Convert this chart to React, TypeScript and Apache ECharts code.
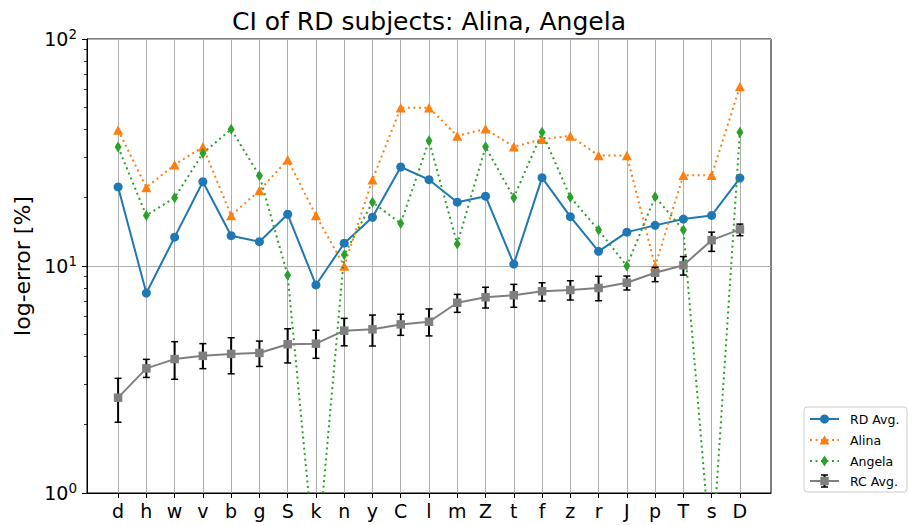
import React, { useEffect, useRef } from "react";
import * as echarts from "echarts";

const categories = ["d", "h", "w", "v", "b", "g", "S", "k", "n", "y", "C", "l", "m", "Z", "t", "f", "z", "r", "J", "p", "T", "s", "D"];

const rdAvg = [22.3, 7.6, 13.4, 23.5, 13.6, 12.8, 16.9, 8.25, 12.6, 16.4, 27.3, 24.0, 19.1, 20.3, 10.2, 24.5, 16.5, 11.6, 14.1, 15.1, 16.1, 16.7, 24.4];
const alina = [39.7, 22.2, 27.9, 33.5, 16.7, 21.5, 29.4, 16.7, 10.0, 24.0, 49.8, 49.8, 37.4, 40.2, 33.5, 36.2, 37.4, 30.7, 30.7, 10.0, 25.1, 25.1, 61.7];
const angela = [33.4, 16.7, 20.0, 31.4, 40.0, 25.0, 9.1, 0.45, 11.2, 19.1, 15.4, 35.6, 12.5, 33.5, 20.0, 38.8, 20.1, 14.4, 10.0, 20.2, 14.4, 0.49, 38.8];
const rcAvg = [2.63, 3.54, 3.89, 4.02, 4.1, 4.14, 4.52, 4.55, 5.19, 5.26, 5.53, 5.68, 6.89, 7.28, 7.43, 7.74, 7.84, 8.0, 8.44, 9.34, 10.07, 13.0, 14.5];
const rcLow = [2.05, 3.23, 3.17, 3.53, 3.35, 3.61, 3.74, 3.92, 4.45, 4.44, 4.95, 4.92, 6.25, 6.53, 6.58, 7.01, 7.08, 7.03, 7.84, 8.53, 9.12, 11.6, 13.6];
const rcHigh = [3.2, 3.88, 4.64, 4.55, 4.83, 4.67, 5.29, 5.21, 5.88, 6.08, 6.13, 6.47, 7.5, 8.06, 8.3, 8.44, 8.61, 9.01, 9.03, 9.87, 11.0, 14.1, 15.3];

const yMajorTicks = [1, 10, 100];
const yMinorTicks = [2, 3, 4, 5, 6, 7, 8, 9, 20, 30, 40, 50, 60, 70, 80, 90];

const seriesNames = ["RD Avg.", "Alina", "Angela", "RC Avg."];
const title = "CI of RD subjects: Alina, Angela";
const yName = "log-error [%]";

const BLUE = "#1f77b4";
const ORANGE = "#ff7f0e";
const GREEN = "#2ca02c";
const GRAY = "#7f7f7f";
const FONT = "DejaVu Sans";
const DOT: number[] = [2, 3.5];

function legendGraphic() {
  const x0 = 804;
  const y0 = 407;
  const rows = [419, 440, 461, 481];
  const lx1 = 810;
  const lx2 = 839;
  const mx = 824.5;
  const tx = 850;
  const children: any[] = [
    {
      type: "rect",
      shape: { x: x0, y: y0, width: 103, height: 85, r: 3 },
      style: { fill: "rgba(255,255,255,0.8)", stroke: "#cccccc", lineWidth: 1 },
    },
  ];
  const colors = [BLUE, ORANGE, GREEN, GRAY];
  const dashes: any[] = ["solid", DOT, DOT, "solid"];
  rows.forEach((y, i) => {
    children.push({
      type: "line",
      shape: { x1: lx1, y1: y, x2: lx2, y2: y },
      style: { stroke: colors[i], lineWidth: 2, lineDash: dashes[i] === "solid" ? null : dashes[i] },
    });
    if (i === 0) {
      children.push({ type: "circle", shape: { cx: mx, cy: y, r: 4.5 }, style: { fill: BLUE } });
    } else if (i === 1) {
      children.push({
        type: "polygon",
        shape: { points: [[mx, y - 4.7], [mx - 5, y + 4.5], [mx + 5, y + 4.5]] },
        style: { fill: ORANGE },
      });
    } else if (i === 2) {
      children.push({
        type: "polygon",
        shape: { points: [[mx, y - 5.5], [mx + 3.5, y], [mx, y + 5.5], [mx - 3.5, y]] },
        style: { fill: GREEN },
      });
    } else {
      children.push({ type: "line", shape: { x1: mx, y1: y - 6, x2: mx, y2: y + 6 }, style: { stroke: "#000", lineWidth: 2 } });
      children.push({ type: "line", shape: { x1: mx - 3.5, y1: y - 6, x2: mx + 3.5, y2: y - 6 }, style: { stroke: "#000", lineWidth: 1.5 } });
      children.push({ type: "line", shape: { x1: mx - 3.5, y1: y + 6, x2: mx + 3.5, y2: y + 6 }, style: { stroke: "#000", lineWidth: 1.5 } });
      children.push({ type: "rect", shape: { x: mx - 4.25, y: y - 4.25, width: 8.5, height: 8.5 }, style: { fill: GRAY } });
    }
    children.push({
      type: "text",
      x: tx,
      y: y,
      style: { text: seriesNames[i], fill: "#000", font: `12.5px ${FONT}`, textVerticalAlign: "middle", textAlign: "left" },
    });
  });
  return { type: "group", children };
}

export default function App() {
  const ref = useRef<HTMLDivElement>(null);
  useEffect(() => {
    if (!ref.current) return;
    const chart = echarts.init(ref.current, null, { renderer: "svg" });
    const idx = categories.map((_, i) => i);
    const option: any = {
      animation: false,
      backgroundColor: "#fff",
      textStyle: { fontFamily: FONT },
      grid: { left: 87, right: 138, top: 39, bottom: 32, show: true, borderColor: "#000", borderWidth: 1, backgroundColor: "transparent" },
      xAxis: {
        type: "value",
        min: -1.1,
        max: 23.1,
        axisLine: { show: true, onZero: false, lineStyle: { color: "#000", width: 1 } },
        axisTick: { show: true, customValues: idx, length: 5, lineStyle: { color: "#000", width: 1 } },
        axisLabel: {
          show: true,
          customValues: idx,
          formatter: (v: number) => categories[Math.round(v)] ?? "",
          color: "#000",
          fontSize: 19,
          fontFamily: FONT,
          margin: 8,
        },
        splitLine: { show: true, lineStyle: { color: "#b0b0b0", width: 1 } },
      },
      yAxis: [
        {
          type: "log",
          logBase: 10,
          min: 1,
          max: 100,
          position: "left",
          name: yName,
          nameLocation: "middle",
          nameGap: 54,
          nameRotate: 90,
          nameTextStyle: { fontSize: 22, color: "#000", fontFamily: FONT },
          axisLine: { show: true, onZero: false, lineStyle: { color: "#000", width: 1 } },
          axisTick: { show: true, customValues: yMajorTicks, length: 5, lineStyle: { color: "#000", width: 1 } },
          axisLabel: {
            show: true,
            customValues: yMajorTicks,
            margin: 10,
            formatter: (v: number) => `{a|10}{b|${Math.round(Math.log10(v))}}`,
            rich: {
              a: { fontSize: 19, fontFamily: FONT, color: "#000" },
              b: { fontSize: 13.5, fontFamily: FONT, color: "#000", padding: [0, 0, 10, 0] },
            },
          },
          splitLine: { show: true, lineStyle: { color: "#b0b0b0", width: 1 } },
        },
        {
          type: "log",
          logBase: 10,
          min: 1,
          max: 100,
          position: "left",
          axisLine: { show: false, onZero: false },
          axisLabel: { show: false },
          splitLine: { show: false },
          axisTick: { show: true, customValues: yMinorTicks, length: 3, lineStyle: { color: "#000", width: 0.8 } },
        },
      ],
      graphic: [
        {
          type: "text",
          x: 429,
          y: 21,
          style: { text: title, fill: "#000", font: `25px ${FONT}`, textAlign: "center", textVerticalAlign: "middle" },
        },
        legendGraphic(),
      ],
      series: [
        {
          name: seriesNames[0],
          type: "line",
          data: rdAvg.map((v, i) => [i, v]),
          symbol: "circle",
          symbolSize: 9,
          lineStyle: { color: BLUE, width: 2 },
          itemStyle: { color: BLUE },
          clip: true,
          z: 3,
        },
        {
          name: seriesNames[1],
          type: "line",
          data: alina.map((v, i) => [i, v]),
          symbol: "triangle",
          symbolSize: [10, 9.5],
          lineStyle: { color: ORANGE, width: 2, type: DOT },
          itemStyle: { color: ORANGE },
          clip: true,
          z: 4,
        },
        {
          name: seriesNames[2],
          type: "line",
          data: angela.map((v, i) => [i, v]),
          symbol: "diamond",
          symbolSize: [7, 11],
          lineStyle: { color: GREEN, width: 2, type: DOT },
          itemStyle: { color: GREEN },
          clip: true,
          z: 5,
        },
        {
          name: "RC err",
          type: "custom",
          data: idx.map((i) => [i, rcLow[i], rcHigh[i]]),
          encode: { x: 0, y: [1, 2] },
          z: 6,
          renderItem: (params: any, api: any) => {
            const x = api.value(0);
            const p1 = api.coord([x, api.value(1)]);
            const p2 = api.coord([x, api.value(2)]);
            const c = 3.5;
            const st = { stroke: "#000", lineWidth: 2 };
            return {
              type: "group",
              children: [
                { type: "line", shape: { x1: p1[0], y1: p1[1], x2: p2[0], y2: p2[1] }, style: st },
                { type: "line", shape: { x1: p1[0] - c, y1: p1[1], x2: p1[0] + c, y2: p1[1] }, style: { stroke: "#000", lineWidth: 1.5 } },
                { type: "line", shape: { x1: p2[0] - c, y1: p2[1], x2: p2[0] + c, y2: p2[1] }, style: { stroke: "#000", lineWidth: 1.5 } },
              ],
            };
          },
        },
        {
          name: seriesNames[3],
          type: "line",
          data: rcAvg.map((v, i) => [i, v]),
          symbol: "rect",
          symbolSize: 8.5,
          lineStyle: { color: GRAY, width: 2 },
          itemStyle: { color: GRAY },
          clip: true,
          z: 7,
        },
      ],
    };
    chart.setOption(option);
    return () => chart.dispose();
  }, []);
  return <div ref={ref} style={{ position: "fixed", left: 0, top: 0, width: 909, height: 525 }} />;
}
